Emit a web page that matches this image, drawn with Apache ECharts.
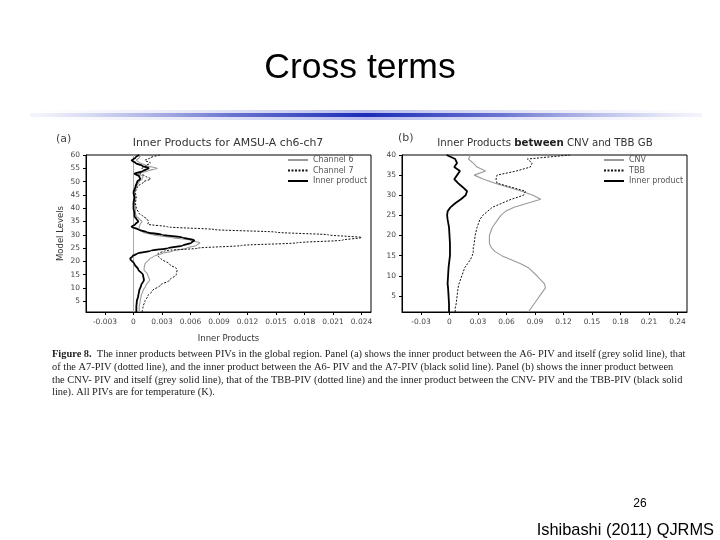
<!DOCTYPE html>
<html>
<head>
<meta charset="utf-8">
<script src="https://cdn.jsdelivr.net/npm/echarts@6/dist/echarts.min.js"></script>
<style>
html,body{margin:0;padding:0;background:#fff;}
#chart{width:720px;height:540px;}
</style>
</head>
<body>
<div id="chart"></div>
<script>
// ---------- Panel (a): AMSU-A ch6-ch7 ----------
const levelsA = [1,3,5,7,9,11,13,15,17,19,21,22,23,24,25,26,27,28,29,30,31,32,33,34,35,36,37,38,40,42,44,46,48,50,51,52,53,54,55,56,57,58,59,60];
const ch6A = [0.0006,0.0006,0.0007,0.0008,0.0010,0.0013,0.0017,0.0015,0.0011,0.0012,0.0017,0.0022,0.0030,0.0042,0.0056,0.0066,0.0070,0.0060,0.0040,0.0020,0.0010,0.0006,0.0006,0.0007,0.0009,0.0006,0.0003,0.0002,0.0002,0.0001,0.0002,0.0001,0.0003,0.0006,0.0009,0.0010,0.0005,0.0015,0.0025,0.0014,0.0007,0.0003,0.0006,0.0008];
const ch7A = [0.0009,0.0010,0.0012,0.0015,0.0020,0.0028,0.0038,0.0045,0.0046,0.0038,0.0029,0.0026,0.0026,0.0033,0.0068,0.0114,0.0172,0.0220,0.0240,0.0205,0.0150,0.0085,0.0036,0.0015,0.0016,0.0014,0.0010,0.0006,0.0003,0.0002,0.0003,0.0002,0.0004,0.0011,0.0018,0.0013,0.0007,0.0010,0.0009,0.0013,0.0018,0.0012,0.0018,0.0028];
const ipA  = [0.0003,0.0003,0.00035,0.0005,0.0006,0.0008,0.0011,0.0010,0.0005,0.0001,-0.00035,-0.0001,0.0004,0.0018,0.0036,0.0052,0.0061,0.0064,0.0052,0.0030,0.0014,0.0005,-0.0002,0.0002,0.0005,0.0003,0.0001,0.0001,0.0000,0.0000,0.0001,0.0000,0.0002,0.0004,0.0007,0.0006,0.0001,0.0010,0.0016,0.0009,0.0002,-0.0002,0.0002,0.0006];
const xTicksA = [-0.003,0,0.003,0.006,0.009,0.012,0.015,0.018,0.021,0.024];
const yTicksA = [5,10,15,20,25,30,35,40,45,50,55,60];

// ---------- Panel (b): CNV and TBB GB ----------
const levelsB = [1,2,3,5,7,8,10,12,13,14,15,16,17,18,20,22,24,25,26,27,28,29,30,31,32,33,34,35,36,37,38,39,40];
const cnvB = [0.083,0.086,0.089,0.095,0.101,0.100,0.092,0.083,0.075,0.065,0.055,0.048,0.044,0.042,0.042,0.045,0.051,0.054,0.059,0.068,0.082,0.096,0.088,0.076,0.062,0.048,0.036,0.026,0.038,0.029,0.025,0.020,0.022];
const tbbB = [0.006,0.006,0.007,0.008,0.009,0.010,0.013,0.016,0.019,0.022,0.024,0.025,0.025,0.026,0.027,0.029,0.032,0.035,0.040,0.045,0.055,0.065,0.078,0.080,0.065,0.050,0.049,0.050,0.070,0.085,0.087,0.082,0.127];
const ipB  = [-0.0005,-0.0005,-0.0005,-0.0010,-0.0015,-0.0020,-0.0015,-0.0010,-0.0005,0.0000,0.0005,0.0005,0.0005,0.0005,0.0000,-0.0005,-0.0020,-0.0025,-0.0020,0.0010,0.0060,0.0120,0.0170,0.0185,0.0140,0.0090,0.0050,0.0080,0.0110,0.0050,0.0080,0.0060,-0.0030];
const xTicksB = [-0.03,0,0.03,0.06,0.09,0.12,0.15,0.18,0.21,0.24];
const yTicksB = [5,10,15,20,25,30,35,40];

const captionLines = [
  "The inner products between PIVs in the global region. Panel (a) shows the inner product between the A6- PIV and itself (grey solid line), that",
  "of the A7-PIV (dotted line), and the inner product between the A6- PIV and the A7-PIV (black solid line). Panel (b) shows the inner product between",
  "the CNV- PIV and itself (grey solid line), that of the TBB-PIV (dotted line) and the inner product between the CNV- PIV and the TBB-PIV (black solid",
  "line). All PIVs are for temperature (K)."
];

const pair = (xs, ys) => xs.map((v, i) => [v, ys[i]]);
const fmt = (d) => (v) => (v === 0 ? '0' : v.toFixed(d));
const plotFont = 'DejaVu Sans';
const lblCol = '#444';

function xAxisCfg(grid, min, max, ticks, dec, name) {
  return {
    gridIndex: grid, type: 'value', min: min, max: max,
    axisLine: {show: true, onZero: false, lineStyle: {color: '#000', width: 1}},
    axisTick: {show: true, customValues: ticks, length: 3, lineStyle: {color: '#000'}},
    axisLabel: {show: true, customValues: ticks, formatter: fmt(dec), fontSize: 7.5, color: lblCol, fontFamily: plotFont, margin: 6},
    splitLine: {show: false},
    name: name, nameLocation: 'middle', nameGap: 22,
    nameTextStyle: {fontSize: 8.5, color: '#333', fontFamily: plotFont}
  };
}
function yAxisCfg(grid, min, max, ticks, name) {
  return {
    gridIndex: grid, type: 'value', min: min, max: max,
    axisLine: {show: true, onZero: false, lineStyle: {color: '#000', width: 1}},
    axisTick: {show: true, customValues: ticks, length: 3, lineStyle: {color: '#000'}},
    axisLabel: {show: true, customValues: ticks, fontSize: 7.5, color: lblCol, fontFamily: plotFont, margin: 6},
    splitLine: {show: false},
    name: name, nameLocation: 'middle', nameGap: 21, nameRotate: 90,
    nameTextStyle: {fontSize: 8.5, color: '#333', fontFamily: plotFont}
  };
}
const greyLine = {color: '#9a9a9a', width: 1.1, type: 'solid'};
const dotLine = {color: '#111', width: 1, type: [2, 1.5]};
const thickLine = {color: '#000', width: 1.8, type: 'solid'};
function ser(name, data, xi, style, smooth, z) {
  return {
    name: name, type: 'line', xAxisIndex: xi, yAxisIndex: xi,
    data: data, showSymbol: false, symbol: 'none', smooth: smooth, smoothMonotone: 'y',
    lineStyle: style, itemStyle: {color: style.color}, z: z, animation: false
  };
}

const chart = echarts.init(document.getElementById('chart'), null, {renderer: 'canvas'});
const s6 = ser('Channel 6', pair(ch6A, levelsA), 0, greyLine, 0.3, 3);
s6.markLine = {silent: true, symbol: 'none', label: {show: false},
  lineStyle: {color: '#aaa', width: 1, type: 'solid'}, data: [{xAxis: 0}], animation: false};

const legendText = {fontSize: 8, color: '#555', fontFamily: plotFont};
const legendIconStyle = {opacity: 0, borderWidth: 0};
const capFont = '10.4px "Liberation Serif"';
chart.setOption({
  backgroundColor: '#fff',
  animation: false,
  grid: [
    {left: 86, top: 155, width: 285, height: 157, show: true, borderColor: '#000', borderWidth: 1, backgroundColor: 'transparent'},
    {left: 402, top: 155, width: 285, height: 157, show: true, borderColor: '#000', borderWidth: 1, backgroundColor: 'transparent'}
  ],
  xAxis: [
    xAxisCfg(0, -0.005, 0.025, xTicksA, 3, 'Inner Products'),
    xAxisCfg(1, -0.05, 0.25, xTicksB, 2, '')
  ],
  yAxis: [
    yAxisCfg(0, 1, 60, yTicksA, 'Model Levels'),
    yAxisCfg(1, 1, 40, yTicksB, '')
  ],
  legend: [
    {data: ['Channel 6', 'Channel 7', 'Inner product'], orient: 'vertical', left: 287, top: 156, padding: 0,
     itemWidth: 20, itemHeight: 8, itemGap: 2.5, textStyle: legendText, selectedMode: false, itemStyle: legendIconStyle},
    {data: ['CNV', 'TBB', 'Inner product'], orient: 'vertical', left: 603, top: 156, padding: 0,
     itemWidth: 20, itemHeight: 8, itemGap: 2.5, textStyle: legendText, selectedMode: false, itemStyle: legendIconStyle}
  ],
  series: [
    s6,
    ser('Channel 7', pair(ch7A, levelsA), 0, dotLine, 0.3, 4),
    ser('Inner product', pair(ipA, levelsA), 0, thickLine, 0.3, 5),
    ser('CNV', pair(cnvB, levelsB), 1, greyLine, false, 3),
    ser('TBB', pair(tbbB, levelsB), 1, dotLine, false, 4),
    ser('Inner product', pair(ipB, levelsB), 1, thickLine, false, 5)
  ],
  graphic: [
    {type: 'text', x: 360, y: 68, style: {text: 'Cross terms', font: '35.5px "Liberation Sans", Arial, sans-serif', fill: '#000', textAlign: 'center', textVerticalAlign: 'middle'}},
    {type: 'rect', shape: {x: 30, y: 110, width: 672, height: 10}, style: {fill: new echarts.graphic.LinearGradient(0, 0, 1, 0, [
      {offset: 0, color: 'rgba(200,205,235,0)'}, {offset: 0.5, color: 'rgba(120,130,220,0.55)'}, {offset: 1, color: 'rgba(200,205,235,0)'}])}},
    {type: 'rect', shape: {x: 30, y: 113, width: 672, height: 4}, style: {fill: new echarts.graphic.LinearGradient(0, 0, 1, 0, [
      {offset: 0, color: 'rgba(190,195,235,0.15)'}, {offset: 0.3, color: '#6a74cf'}, {offset: 0.5, color: '#1c2cb8'},
      {offset: 0.7, color: '#6a74cf'}, {offset: 1, color: 'rgba(190,195,235,0.15)'}])}},
    {type: 'text', x: 56, y: 134, style: {text: '(a)', font: '11px "DejaVu Sans"', fill: '#444'}},
    {type: 'text', x: 228, y: 143, style: {text: 'Inner Products for AMSU-A ch6-ch7', font: '10.9px "DejaVu Sans"', fill: '#333', textAlign: 'center', textVerticalAlign: 'middle'}},
    {type: 'text', x: 398, y: 133, style: {text: '(b)', font: '11px "DejaVu Sans"', fill: '#444'}},
    {type: 'text', x: 545, y: 143, style: {text: 'Inner Products {b|between} CNV and TBB GB', font: '10.2px "DejaVu Sans"', fill: '#333', textAlign: 'center', textVerticalAlign: 'middle',
      rich: {b: {font: 'bold 10.2px "DejaVu Sans"', fill: '#222'}}}},
    {type: 'text', x: 52, y: 349, style: {text: '{b|Figure 8.}  ' + captionLines[0], font: capFont, fill: '#222',
      rich: {b: {font: 'bold ' + capFont, fill: '#222'}}}},
    {type: 'text', x: 52, y: 362, style: {text: captionLines[1], font: capFont, fill: '#222'}},
    {type: 'text', x: 52, y: 375, style: {text: captionLines[2], font: capFont, fill: '#222'}},
    {type: 'text', x: 52, y: 387, style: {text: captionLines[3], font: capFont, fill: '#222'}},
    {type: 'text', x: 640, y: 504, style: {text: '26', font: '12px "Liberation Sans"', fill: '#000', textAlign: 'center', textVerticalAlign: 'middle'}},
    {type: 'text', x: 714, y: 530, style: {text: 'Ishibashi (2011) QJRMS', font: '16.4px "Liberation Sans"', fill: '#000', textAlign: 'right', textVerticalAlign: 'middle'}}
  ]
});
</script>
</body>
</html>
